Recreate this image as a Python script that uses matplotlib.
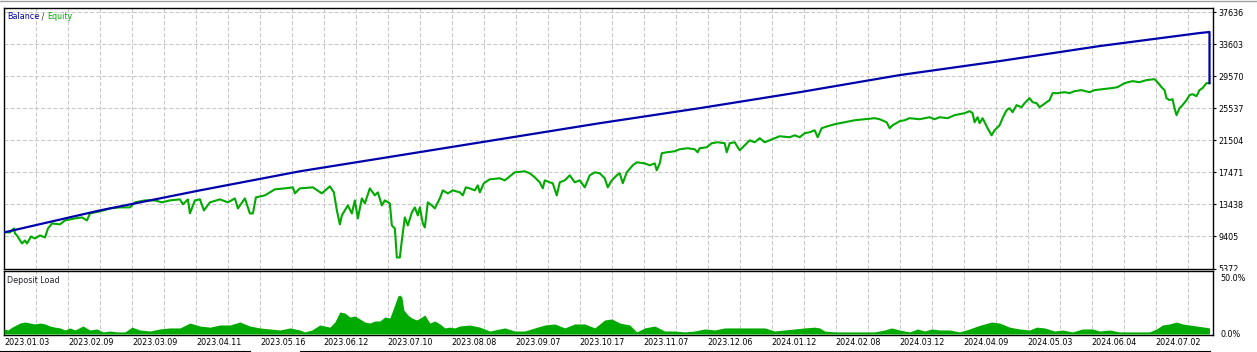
import matplotlib
matplotlib.use("Agg")
import matplotlib.pyplot as plt
from matplotlib.patches import Rectangle
from matplotlib.lines import Line2D

# progress index of the test (one unit per pixel column of the original chart)
bal_idx = [0, 96, 196, 296, 396, 496, 596, 696, 796, 896, 996, 1096, 1196, 1206, 1206]
bal_val = [9910, 12680, 15200, 17600, 19610, 21630, 23650, 25540, 27550, 29700, 31460, 33350, 34990,
           35120, 28690]

eq_idx = [0, 6, 10, 11, 13, 18, 21, 23, 27, 31, 36, 41, 44, 48, 56, 61, 71, 78, 83, 86, 96, 106, 116, 126,
          131, 141, 151, 158, 166, 176, 179, 184, 186, 191, 196, 200, 206, 216, 224, 231, 234, 241, 246, 249,
          252, 261, 271, 281, 289, 291, 296, 309, 318, 326, 330, 333, 336, 338, 344, 348, 351, 354, 358, 361,
          366, 371, 374, 378, 381, 386, 388, 391, 393, 396, 398, 401, 404, 408, 411, 414, 416, 419, 421, 424,
          428, 431, 436, 439, 444, 449, 456, 459, 462, 466, 471, 474, 476, 480, 486, 496, 501, 506, 511, 521,
          526, 531, 536, 539, 541, 546, 549, 553, 556, 561, 566, 571, 576, 581, 586, 591, 596, 601, 604, 608,
          613, 616, 619, 623, 629, 633, 641, 646, 651, 653, 656, 658, 663, 671, 676, 684, 691, 694, 696, 703,
          708, 714, 721, 723, 726, 731, 736, 741, 746, 751, 756, 761, 766, 771, 776, 786, 791, 796, 801, 806,
          811, 814, 818, 824, 831, 841, 851, 861, 871, 876, 883, 886, 889, 896, 901, 906, 916, 926, 931, 936,
          944, 951, 961, 966, 969, 971, 974, 976, 979, 981, 984, 988, 991, 996, 999, 1003, 1006, 1009, 1013,
          1018, 1021, 1024, 1026, 1029, 1033, 1036, 1039, 1043, 1046, 1049, 1054, 1061, 1066, 1071, 1078,
          1086, 1091, 1099, 1108, 1114, 1121, 1129, 1136, 1143, 1151, 1154, 1158, 1161, 1163, 1166, 1169,
          1171, 1173, 1176, 1179, 1183, 1186, 1189, 1193, 1196, 1199, 1203, 1206]
eq_val = [9950, 9910, 10410, 9780, 9530, 8520, 8900, 8520, 9400, 9150, 9530, 9280, 10410, 11040, 10920,
          11420, 11670, 11800, 11420, 12300, 12560, 12930, 13060, 13060, 13690, 13940, 13940, 13690, 13940,
          14070, 13440, 14070, 12300, 13940, 14070, 12680, 13690, 14070, 13690, 14190, 12930, 14190, 12300,
          12300, 14320, 14570, 15330, 15450, 15580, 14820, 15450, 15580, 14820, 15710, 14950, 12680, 10920,
          12050, 13310, 12300, 13940, 11670, 14190, 13560, 15450, 14570, 14950, 13310, 13940, 13560, 10790,
          10410, 6760, 6760, 8900, 11800, 10790, 12430, 13060, 12050, 13060, 11040, 10540, 13690, 13310,
          12930, 14190, 15200, 14820, 15200, 14950, 14570, 15580, 15450, 15200, 15830, 14950, 16090, 16590,
          16720, 16460, 16970, 17470, 17600, 17350, 16840, 16210, 15450, 16460, 16210, 16090, 14570, 16210,
          16460, 17090, 16210, 16460, 15580, 17090, 17470, 17350, 16720, 15580, 16460, 17090, 17350, 16090,
          17470, 18350, 18730, 18600, 18350, 18600, 17720, 18600, 19870, 19990, 20120, 20370, 20500, 20370,
          19990, 20500, 20620, 21130, 21250, 21130, 19990, 21130, 21250, 20240, 20870, 21500, 21250, 21760,
          21250, 21500, 21760, 22010, 21880, 22130, 21880, 22390, 22510, 22760, 21880, 23020, 23270, 23520,
          23770, 24020, 24150, 24280, 24150, 23770, 23020, 23390, 23900, 24020, 24280, 24150, 24400, 24150,
          24400, 24280, 24660, 24910, 25160, 24910, 23770, 24400, 23650, 24280, 23770, 23020, 22130, 22760,
          23390, 24280, 25290, 25540, 25030, 25920, 25660, 26170, 26550, 26800, 26290, 26170, 25660, 25920,
          26290, 26550, 27430, 27430, 27550, 27430, 27680, 27810, 27550, 27810, 27930, 28060, 28180, 28690,
          28940, 28810, 29070, 29190, 28810, 28180, 27810, 26800, 26550, 26670, 25540, 24660, 25540, 25920,
          26550, 27180, 27300, 27050, 27810, 28060, 28690, 28690]

load_idx = [0, 4, 8, 16, 21, 26, 31, 36, 41, 46, 51, 56, 61, 66, 71, 79, 86, 93, 99, 106, 113, 121, 128,
            136, 146, 156, 166, 176, 186, 196, 206, 216, 226, 236, 246, 256, 266, 276, 286, 296, 301, 308,
            316, 326, 331, 336, 341, 346, 351, 356, 361, 366, 371, 376, 381, 386, 389, 394, 396, 398, 400,
            404, 408, 413, 418, 421, 426, 431, 436, 441, 446, 451, 456, 466, 476, 486, 496, 501, 511, 521,
            531, 541, 551, 561, 571, 581, 591, 601, 608, 616, 626, 633, 641, 651, 661, 671, 681, 691, 701,
            711, 721, 731, 741, 751, 761, 771, 781, 791, 801, 811, 816, 821, 831, 841, 851, 861, 871, 881,
            888, 896, 906, 914, 921, 928, 936, 946, 956, 966, 974, 981, 988, 996, 1006, 1016, 1026, 1033,
            1041, 1051, 1059, 1069, 1079, 1089, 1096, 1106, 1116, 1126, 1136, 1146, 1153, 1159, 1166, 1173,
            1179, 1186, 1193, 1201, 1206]
load_val = [4.4, 3.5, 6.0, 9.6, 10.5, 9.6, 8.8, 9.6, 8.8, 7.0, 6.0, 5.3, 3.5, 5.3, 3.5, 7.0, 3.5, 4.4,
            1.8, 2.6, 1.8, 1.8, 6.0, 3.5, 2.6, 4.4, 5.3, 5.3, 9.6, 7.0, 6.0, 7.9, 7.9, 10.5, 7.0, 5.3, 4.4,
            3.5, 5.3, 3.5, 1.8, 3.5, 7.9, 6.0, 10.5, 19.3, 18.4, 14.9, 15.8, 13.2, 10.5, 9.6, 11.4, 11.4,
            14.9, 14.0, 21.0, 33.3, 34.2, 32.5, 21.0, 16.7, 14.0, 12.3, 14.9, 16.7, 9.6, 11.4, 8.8, 5.3, 6.0,
            5.3, 7.0, 7.9, 6.0, 2.6, 4.4, 5.3, 2.6, 2.6, 5.3, 7.9, 8.8, 5.3, 8.8, 8.8, 5.3, 12.3, 13.2, 9.6,
            7.9, 1.8, 5.3, 7.0, 2.6, 2.6, 1.8, 2.6, 4.4, 3.5, 5.3, 5.3, 5.3, 5.3, 5.3, 2.6, 3.5, 4.4, 5.3,
            6.0, 5.3, 2.6, 1.8, 1.8, 1.8, 1.8, 1.8, 3.5, 5.3, 3.5, 1.8, 4.4, 2.6, 4.4, 3.5, 3.5, 1.8, 4.4,
            7.0, 8.8, 10.5, 9.6, 6.0, 4.4, 3.5, 6.0, 5.3, 2.6, 3.5, 1.8, 4.4, 4.4, 2.6, 3.5, 1.8, 1.8, 1.8,
            1.8, 4.4, 7.9, 8.8, 10.5, 8.8, 7.9, 7.0, 6.0, 5.3]

main_ticks = [5372, 9405, 13438, 17471, 21504, 25537, 29570, 33603, 37636]
date_labels = ["2023.01.03", "2023.02.09", "2023.03.09", "2023.04.11", "2023.05.16", "2023.06.12",
               "2023.07.10", "2023.08.08", "2023.09.07", "2023.10.17", "2023.11.07", "2023.12.06",
               "2024.01.12", "2024.02.08", "2024.03.12", "2024.04.09", "2024.05.03", "2024.06.04",
               "2024.07.02"]

BLUE = '#0000AA'
GREEN = '#00AA00'
GRID = '#C8C8C8'
FS = 5.8

plt.rcParams['font.family'] = ['DejaVu Sans']
plt.rcParams['lines.scale_dashes'] = False

W, H = 1257, 352
fig = plt.figure(figsize=(W / 100, H / 100), dpi=100)

x0, x1 = 3.5, 1213
ax = fig.add_axes([x0 / W, 1 - 268.5 / H, (x1 - x0) / W, 260.5 / H])
ax2 = fig.add_axes([x0 / W, 1 - 335 / H, (x1 - x0) / W, 64 / H])
ax2.set_zorder(3)

# white strip covering the price scale below the main panel (cuts the lowest label)
fig.add_artist(Rectangle((x1 / W, 0), 1 - x1 / W, 1 - 271 / H, transform=fig.transFigure,
                         facecolor='white', edgecolor='none', zorder=2))

xmax = 1209.5
grid_x = [32 * k for k in range(1, 38)]

# main panel
ax.plot(bal_idx, bal_val, color=BLUE, lw=1.6, zorder=4)
ax.plot(eq_idx, eq_val, color=GREEN, lw=1.5, zorder=3)
ax.set_xlim(-0.5, xmax)
ax.set_ylim(5372, 38140)
for gx in grid_x:
    ax.axvline(gx, color=GRID, lw=0.75, dashes=(2.9, 1.5), zorder=1)
for gy in main_ticks[1:]:
    ax.axhline(gy, color=GRID, lw=0.75, dashes=(2.9, 1.5), zorder=1)
ax.yaxis.tick_right()
ax.set_yticks(main_ticks)
ax.set_yticklabels([str(v) for v in main_ticks])
ax.tick_params(axis='y', length=2, width=0.8, pad=2, labelsize=FS, colors='black')
ax.set_xticks([])
for s in ax.spines.values():
    s.set_linewidth(1.0)
    s.set_color('black')

t1 = ax.text(0.003, 0.956, "Balance", color=BLUE, fontsize=FS, transform=ax.transAxes,
             va='baseline', ha='left')
t2 = ax.annotate(" / ", xy=(1, 0), xycoords=t1, va='bottom', ha='left', fontsize=FS, color='#303030')
ax.annotate("Equity", xy=(1, 0), xycoords=t2, va='bottom', ha='left', fontsize=FS, color=GREEN)

# deposit load panel
ax2.fill_between(load_idx, load_val, 0, color=GREEN, lw=0, zorder=3)
ax2.set_xlim(-0.5, xmax)
ax2.set_ylim(-0.9, 55.3)
for gx in grid_x:
    ax2.axvline(gx, color=GRID, lw=0.75, dashes=(2.9, 1.5), zorder=1)
ax2.yaxis.tick_right()
ax2.set_yticks([0, 50])
ax2.set_yticklabels(["0.0%", "50.0%"])
ax2.tick_params(axis='y', length=0, pad=5.5, labelsize=FS, colors='black')
ax2.set_xticks([64 * k for k in range(len(date_labels))])
ax2.set_xticklabels(date_labels, ha='left')
ax2.tick_params(axis='x', length=0, pad=2, labelsize=FS, colors='black')
for s in ax2.spines.values():
    s.set_linewidth(1.0)
    s.set_color('black')
ax2.text(0.003, 0.82, "Deposit Load", color='#202030', fontsize=FS, transform=ax2.transAxes,
         va='baseline', ha='left')

# frame lines around the window
fig.add_artist(Line2D([0, 1], [1 - 0.8 / H, 1 - 0.8 / H], transform=fig.transFigure,
                      color='#A0A0A0', lw=1.0))
fig.add_artist(Line2D([0, 250 / W], [1 - 350.5 / H, 1 - 350.5 / H], transform=fig.transFigure,
                      color='black', lw=0.8))
fig.add_artist(Line2D([300 / W, 1210 / W], [1 - 350.5 / H, 1 - 350.5 / H], transform=fig.transFigure,
                      color='black', lw=0.8))

fig.savefig("out.png", dpi=100, facecolor='white')
